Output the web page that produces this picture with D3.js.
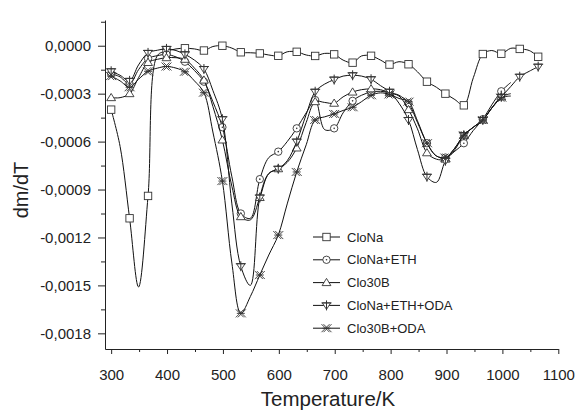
<!DOCTYPE html>
<html>
<head>
<meta charset="utf-8">
<script src="https://cdn.jsdelivr.net/npm/d3@7"></script>
<style>
  body { margin: 0; background: #fff; }
  text { font-family: Arial, "Liberation Sans", sans-serif; fill: #222; }
</style>
</head>
<body>
<div id="chart"></div>
<script>
// temperatures in K (a symbol is drawn on every second point)
var temps = [300, 316, 333, 349, 366, 383, 399, 416, 432, 449, 466, 482, 499,
  516, 532, 549, 566, 582, 599, 615, 632, 649, 665, 682, 699, 715, 732, 748,
  765, 782, 798, 815, 832, 848, 865, 882, 898, 915, 931, 948, 965, 981, 998,
  1015, 1031, 1048, 1064];

// dm/dT values, in units of 1e-4
var cloNa = [-4.0, -6.3, -10.8, -15.1, -9.4, -0.6, -0.35, -0.2, -0.16, -0.2,
  -0.3, -0.05, 0.0, -0.15, -0.41, -0.44, -0.48, -0.58, -0.63, -0.38, -0.38,
  -0.58, -0.64, -0.48, -0.54, -0.9, -1.06, -0.64, -0.63, -0.9, -1.18, -1.0,
  -1.16, -1.63, -2.25, -2.6, -3.0, -3.37, -3.73, -2.0, -0.52, -0.3, -0.5,
  -0.16, -0.2, -0.3, -0.69];

var cloNaEth = [-1.75, -1.95, -2.4, -1.5, -0.8, -0.62, -0.55, -0.7, -1.0, -1.55,
  -2.25, -3.5, -5.1, -8.2, -10.5, -10.8, -8.35, -7.0, -6.63, -6.0, -5.17, -4.2,
  -3.4, -5.25, -5.17, -4.2, -3.45, -3.1, -2.9, -2.85, -2.95, -3.1, -3.6, -4.8,
  -6.1, -6.9, -7.0, -6.6, -6.1, -5.3, -4.6, -3.7, -2.85, -2.3, null, null, null];

var clo30B = [-3.25, -3.25, -3.0, -2.0, -1.05, -0.85, -0.75, -0.75, -0.85, -1.4,
  -2.15, -3.8, -5.9, -8.8, -10.7, -10.9, -9.5, -8.0, -7.7, -7.3, -6.4, -4.8,
  -3.5, -3.55, -3.6, -3.2, -2.9, -2.75, -2.7, -2.75, -2.95, -3.15, -4.0, -5.2,
  -6.7, -7.1, -7.1, -6.5, -5.6, -5.1, -4.65, -3.9, -3.2, -3.0, null, null, null];

var cloNaEthOda = [-1.6, -1.85, -2.2, -1.2, -0.45, -0.28, -0.2, -0.3, -0.54,
  -0.9, -1.46, -2.8, -4.6, -9.9, -13.8, -15.0, -9.5, -8.0, -7.7, -7.2, -6.0,
  -4.3, -2.88, -2.4, -2.12, -1.9, -1.85, -1.9, -2.1, -2.5, -2.88, -3.6, -4.65,
  -6.5, -8.2, -8.55, -7.2, -6.4, -5.6, -5.1, -4.65, -3.9, -3.2, -2.55, -1.94,
  -1.6, -1.31];

var clo30BOda = [-1.9, -2.2, -2.6, -2.1, -1.6, -1.4, -1.3, -1.4, -1.63, -2.2,
  -2.94, -5.4, -8.47, -13.6, -16.75, -15.7, -14.35, -13.1, -11.85, -9.9, -7.9,
  -6.2, -4.65, -4.45, -4.27, -4.05, -3.85, -3.5, -3.1, -2.95, -3.05, -3.3,
  -3.5, -4.7, -6.1, -6.9, -7.0, -6.4, -5.6, -5.1, -4.65, -3.9, -3.25, -3.15,
  null, null, null];

var seriesNames = ["CloNa", "CloNa+ETH", "Clo30B", "CloNa+ETH+ODA", "Clo30B+ODA"];
var seriesSymbols = ["square", "circle", "triangle", "downtri", "star"];

var xTicks = [300, 400, 500, 600, 700, 800, 900, 1000, 1100];
var xMinor = [350, 450, 550, 650, 750, 850, 950, 1050];
var yTicks = [0, -3, -6, -9, -12, -15, -18];
var yMinor = [1.5, -1.5, -4.5, -7.5, -10.5, -13.5, -16.5];

var width = 581,
  height = 411;

var svg = d3
  .select("#chart")
  .append("svg")
  .attr("width", width)
  .attr("height", height);

var x = d3.scaleLinear().domain([289, 1100]).range([105, 558.3]);
var y = d3.scaleLinear().domain([-18.98, 1.61]).range([349, 20]);

// axes
var xAxis = svg.append("g").attr("transform", "translate(0,349)");
xAxis.call(
  d3.axisBottom(x).tickValues(xTicks).tickSize(5).tickSizeOuter(0)
    .tickPadding(15).tickFormat(d3.format("d"))
);
svg.append("g").attr("transform", "translate(0,349)")
  .call(d3.axisBottom(x).tickValues(xMinor).tickSize(3).tickSizeOuter(0).tickFormat(""))
  .select(".domain").remove();

var yAxis = svg.append("g").attr("transform", "translate(105,0)");
yAxis.call(
  d3.axisLeft(y).tickValues(yTicks).tickSize(7).tickSizeOuter(0)
    .tickPadding(7)
    .tickFormat(function (d) {
      return (d / 10000).toFixed(4).replace(".", ",");
    })
);
svg.append("g").attr("transform", "translate(105,0)")
  .call(d3.axisLeft(y).tickValues(yMinor).tickSize(4).tickSizeOuter(0).tickFormat(""))
  .select(".domain").remove();

svg.selectAll(".tick text").attr("font-size", 15).style("fill", "#222");
svg.selectAll(".domain, .tick line").attr("stroke", "#222");

svg.append("text")
  .attr("x", 328)
  .attr("y", 406)
  .attr("text-anchor", "middle")
  .attr("font-size", 20.5)
  .text("Temperature/K");

svg.append("text")
  .attr("transform", "translate(28,190) rotate(-90)")
  .attr("text-anchor", "middle")
  .attr("font-size", 20)
  .text("dm/dT");

// symbols
function drawSymbol(g, type) {
  var stroke = "#333";
  if (type === "square") {
    g.append("rect").attr("x", -3.7).attr("y", -3.7).attr("width", 7.4).attr("height", 7.4)
      .attr("fill", "#fff").attr("stroke", stroke).attr("stroke-width", 0.9);
  } else if (type === "circle") {
    g.append("circle").attr("r", 3.7).attr("fill", "#fff")
      .attr("stroke", stroke).attr("stroke-width", 0.9);
    g.append("circle").attr("r", 0.8).attr("fill", stroke);
  } else if (type === "triangle") {
    g.append("path").attr("d", "M0,-4.2L4.4,3L-4.4,3Z").attr("fill", "#fff")
      .attr("stroke", stroke).attr("stroke-width", 0.9);
  } else if (type === "downtri") {
    g.append("path").attr("d", "M-4.2,-2.5L4.2,-2.5L0,4Z").attr("fill", "#fff")
      .attr("stroke", stroke).attr("stroke-width", 0.9);
    g.append("path").attr("d", "M0,-5L0,5M-5,-2.5L5,-2.5").attr("fill", "none")
      .attr("stroke", stroke).attr("stroke-width", 1);
  } else {
    g.append("path")
      .attr("d", "M-5,-4L3,4M-3,4L5,-4M-3,-4L5,4M-5,4L3,-4M-4,0L4,0")
      .attr("fill", "none").attr("stroke", stroke).attr("stroke-width", 0.9);
  }
}

var allSeries = [cloNa, cloNaEth, clo30B, cloNaEthOda, clo30BOda];

var line = d3
  .line()
  .defined(function (d) { return d.v !== null; })
  .x(function (d) { return x(d.t); })
  .y(function (d) { return y(d.v); })
  .curve(d3.curveCatmullRom.alpha(0.5));

allSeries.forEach(function (values, k) {
  var pts = temps.map(function (t, i) { return { t: t, v: values[i], i: i }; });
  svg.append("path")
    .datum(pts)
    .attr("d", line)
    .attr("fill", "none")
    .attr("stroke", "#111")
    .attr("stroke-width", 1);

  svg.append("g")
    .selectAll("g")
    .data(pts.filter(function (d) { return d.v !== null && d.i % 2 === 0; }))
    .join("g")
    .attr("transform", function (d) { return "translate(" + x(d.t) + "," + y(d.v) + ")"; })
    .each(function () { drawSymbol(d3.select(this), seriesSymbols[k]); });
});

// legend
var legend = svg.append("g");
seriesNames.forEach(function (name, k) {
  var ly = 237 + k * 22.8;
  var row = legend.append("g").attr("transform", "translate(0," + ly + ")");
  row.append("line").attr("x1", 313).attr("x2", 340).attr("y1", 0).attr("y2", 0)
    .attr("stroke", "#111").attr("stroke-width", 1);
  drawSymbol(row.append("g").attr("transform", "translate(326.5,0)"), seriesSymbols[k]);
  row.append("text").attr("x", 347).attr("y", 0).attr("dy", "0.35em")
    .attr("font-size", 13).text(name);
});
</script>
</body>
</html>
